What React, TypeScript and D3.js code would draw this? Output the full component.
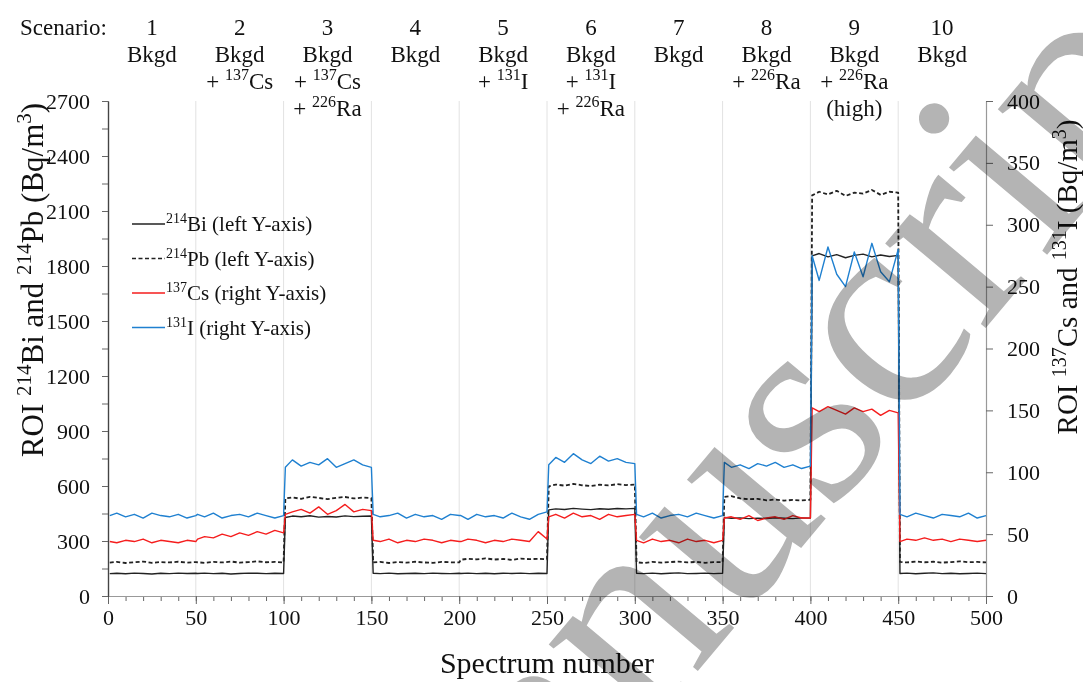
import React, { useRef, useEffect } from 'react';
import * as d3 from 'd3';

// spectrum offsets inside each 50-spectrum scenario block
const blockOffsets = [1, 5, 10, 15, 20, 25, 30, 35, 40, 45, 50];

const scenarioNums = ['1', '2', '3', '4', '5', '6', '7', '8', '9', '10'];
const scenarioLines = [
  ['Bkgd'],
  ['Bkgd', '+ ^137Cs'],
  ['Bkgd', '+ ^137Cs', '+ ^226Ra'],
  ['Bkgd'],
  ['Bkgd', '+ ^131I'],
  ['Bkgd', '+ ^131I', '+ ^226Ra'],
  ['Bkgd'],
  ['Bkgd', '+ ^226Ra'],
  ['Bkgd', '+ ^226Ra', '(high)'],
  ['Bkgd'],
];

// 214Bi, left axis (Bq/m3), 11 readings per scenario
const bi214 = [
  122, 124, 121, 125, 123, 120, 124, 122, 125, 123, 124,
  123, 125, 122, 124, 120, 123, 125, 124, 122, 124, 123,
  428, 436, 432, 438, 430, 434, 431, 437, 433, 435, 436,
  124, 122, 125, 121, 123, 124, 122, 125, 123, 122, 124,
  123, 125, 122, 124, 121, 124, 123, 125, 122, 124, 123,
  470, 475, 472, 478, 474, 471, 476, 473, 477, 475, 478,
  124, 122, 125, 121, 124, 126, 122, 123, 125, 122, 124,
  428, 424, 426, 422, 425, 423, 427, 424, 422, 426, 425,
  1855, 1868, 1850, 1862, 1845, 1858, 1865, 1850, 1860, 1852, 1858,
  123, 125, 121, 124, 126, 122, 124, 121, 123, 125, 122,
];

// 214Pb, left axis
const pb214 = [
  182, 186, 180, 184, 188, 181, 185, 183, 187, 182, 185,
  184, 181, 186, 183, 188, 182, 185, 189, 184, 186, 183,
  532, 538, 530, 541, 535, 528, 536, 540, 532, 537, 534,
  183, 186, 180, 185, 182, 187, 183, 181, 186, 184, 183,
  198, 203, 200, 205, 199, 202, 197, 204, 201, 203, 200,
  598, 608, 602, 612, 604, 600, 607, 603, 610, 605, 608,
  184, 180, 186, 182, 185, 188, 183, 186, 181, 185, 184,
  540, 545, 532, 528, 530, 522, 526, 520, 524, 521, 525,
  2185, 2205, 2190, 2210, 2182, 2200, 2195, 2215, 2188, 2205, 2200,
  186, 183, 188, 184, 187, 182, 185, 189, 184, 186, 183,
];

// 137Cs, right axis
const cs137 = [
  44, 43, 45, 44, 46, 43, 45, 44, 43, 45, 44,
  46, 48, 47, 50, 48, 51, 49, 52, 50, 53, 51,
  66, 68, 70, 67, 72, 66, 69, 74, 68, 70, 69,
  45, 44, 46, 43, 45, 44, 46, 45, 43, 45, 44,
  44, 46, 45, 43, 45, 44, 46, 45, 44, 52, 46,
  64, 66, 63, 67, 64, 65, 62, 66, 64, 65, 66,
  45, 43, 46, 44, 45, 43, 46, 44, 45, 43, 45,
  63, 64, 62, 65, 61, 63, 64, 62, 65, 63, 63,
  152, 149, 153, 150, 147, 152, 149, 151, 146, 150, 148,
  44, 46, 45, 47, 45, 46, 44, 46, 45, 44, 45,
];

// 131I, right axis
const i131 = [
  65, 67, 64, 66, 63, 67, 65, 64, 66, 63, 65,
  66, 64, 67, 63, 65, 66, 64, 67, 65, 63, 65,
  104, 110, 105, 108, 106, 111, 104, 107, 110, 106, 104,
  66, 64, 65, 67, 63, 66, 64, 65, 62, 66, 65,
  65, 62, 66, 64, 65, 63, 67, 64, 62, 66, 68,
  106, 112, 108, 115, 110, 107, 113, 109, 111, 108, 107,
  66, 64, 67, 63, 65, 66, 64, 67, 65, 63, 65,
  108, 104, 106, 103, 107, 105, 108, 104, 106, 103, 105,
  275, 255, 282, 260, 250, 278, 258, 285, 262, 254, 280,
  66, 64, 67, 65, 63, 66, 65, 64, 67, 63, 65,
];

const legendItems = [
  { label: '^214Bi (left Y-axis)', color: '#222', dash: null },
  { label: '^214Pb (left Y-axis)', color: '#222', dash: '4,2.5' },
  { label: ' ^137Cs (right Y-axis)', color: '#f51d1d', dash: null },
  { label: ' ^131I (right Y-axis)', color: '#1f80d0', dash: null },
];

const FONT = '"Liberation Serif", "Times New Roman", serif';

// write "text ^123rest" with the number raised
function richText(sel, str, size) {
  const parts = str.split(/\^(\d+)/);
  const sup = Math.round(size * 0.68);
  const shift = Math.round(size * 0.38);
  parts.forEach((p, i) => {
    if (p === '') return;
    const t = sel.append('tspan').text(p);
    if (i % 2 === 1) {
      t.attr('font-size', sup).attr('dy', -shift);
    } else if (i > 0) {
      t.attr('dy', shift);
    }
  });
}

function App() {
  const ref = useRef(null);

  useEffect(() => {
    drawChart();
  }, []);

  function drawChart() {
    const svg = d3.select(ref.current);
    svg.selectAll('*').remove();

    const left = 108, right = 986, top = 101, bottom = 596;
    const x = d3.scaleLinear().domain([0, 500]).range([left, right]);
    const yL = d3.scaleLinear().domain([0, 2700]).range([bottom, top]);
    const yR = d3.scaleLinear().domain([0, 400]).range([bottom, top]);
    const plain = d3.format('d');

    const spectra = [];
    for (let k = 0; k < 10; k++) blockOffsets.forEach(o => spectra.push(k * 50 + o));

    // gridlines
    svg.append('g')
      .selectAll('line')
      .data(d3.range(50, 500, 50))
      .join('line')
      .attr('x1', d => x(d)).attr('x2', d => x(d))
      .attr('y1', top).attr('y2', bottom)
      .attr('stroke', '#e2e2e2').attr('stroke-width', 1);

    // axes
    const styleAxis = (g, domainColor) => {
      g.select('.domain').attr('stroke', domainColor).attr('stroke-width', 1.2);
      g.selectAll('.tick line').attr('stroke', '#666');
      g.selectAll('.tick text').attr('font-family', FONT).attr('font-size', 22).attr('fill', '#111');
    };

    svg.append('g')
      .attr('transform', `translate(0,${bottom})`)
      .call(d3.axisBottom(x).tickValues(d3.range(0, 501, 10)).tickSize(5).tickSizeOuter(0).tickFormat(() => ''))
      .call(g => styleAxis(g, '#999'));
    svg.append('g')
      .attr('transform', `translate(0,${bottom})`)
      .call(d3.axisBottom(x).tickValues(d3.range(0, 501, 50)).tickSize(8).tickSizeOuter(0).tickPadding(5).tickFormat(plain))
      .call(g => styleAxis(g, '#999'));

    svg.append('g')
      .attr('transform', `translate(${left},0)`)
      .call(d3.axisLeft(yL).tickValues(d3.range(150, 2700, 300)).tickSize(6).tickSizeOuter(0).tickFormat(() => ''))
      .call(g => styleAxis(g, '#444'));
    svg.append('g')
      .attr('transform', `translate(${left},0)`)
      .call(d3.axisLeft(yL).tickValues(d3.range(0, 2701, 300)).tickSize(6).tickSizeOuter(0).tickPadding(12).tickFormat(plain))
      .call(g => styleAxis(g, '#444'));

    svg.append('g')
      .attr('transform', `translate(${right},0)`)
      .call(d3.axisRight(yR).tickValues(d3.range(0, 401, 50)).tickSize(7).tickSizeOuter(0).tickPadding(14).tickFormat(plain))
      .call(g => styleAxis(g, '#999'));

    // series
    const series = [
      { vals: bi214, y: yL, color: '#222', dash: null, w: 1.4 },
      { vals: pb214, y: yL, color: '#222', dash: '4,2.5', w: 1.8 },
      { vals: cs137, y: yR, color: '#f51d1d', dash: null, w: 1.4 },
      { vals: i131, y: yR, color: '#1f80d0', dash: null, w: 1.4 },
    ];
    series.forEach(s => {
      const pts = s.vals.map((v, i) => ({ s: spectra[i], v }));
      svg.append('path')
        .datum(pts)
        .attr('fill', 'none')
        .attr('stroke', s.color)
        .attr('stroke-width', s.w)
        .attr('stroke-dasharray', s.dash)
        .attr('stroke-linejoin', 'round')
        .attr('d', d3.line().x(d => x(d.s)).y(d => s.y(d.v)));
    });

    // scenario header
    const txt = svg.append('g').attr('font-family', FONT).attr('fill', '#111');
    txt.append('text').attr('x', 20).attr('y', 35).attr('font-size', 23).text('Scenario:');
    scenarioNums.forEach((n, k) => {
      const cx = x(k * 50 + 25);
      txt.append('text').attr('x', cx).attr('y', 35).attr('font-size', 23)
        .attr('text-anchor', 'middle').text(n);
      scenarioLines[k].forEach((line, j) => {
        const t = txt.append('text').attr('x', cx).attr('y', 62 + j * 27)
          .attr('font-size', 23).attr('text-anchor', 'middle');
        richText(t, line, 23);
      });
    });

    // legend
    legendItems.forEach((d, i) => {
      const ly = 224 + i * 34.5;
      svg.append('line')
        .attr('x1', 132).attr('x2', 165).attr('y1', ly).attr('y2', ly)
        .attr('stroke', d.color).attr('stroke-width', d.dash ? 1.6 : 1.4)
        .attr('stroke-dasharray', d.dash);
      const t = txt.append('text').attr('x', 166).attr('y', ly + 7).attr('font-size', 21);
      richText(t, d.label, 21);
    });

    // axis titles
    const tl = txt.append('text').attr('transform', 'translate(43,280) rotate(-90)')
      .attr('text-anchor', 'middle').attr('font-size', 31);
    richText(tl, 'ROI ^214Bi and ^214Pb (Bq/m^3)', 31);
    const tr = txt.append('text').attr('transform', 'translate(1077,277) rotate(-90)')
      .attr('text-anchor', 'middle').attr('font-size', 29);
    richText(tr, 'ROI ^137Cs and ^131I (Bq/m^3)', 29);
    txt.append('text').attr('x', (left + right) / 2).attr('y', 673)
      .attr('text-anchor', 'middle').attr('font-size', 30).text('Spectrum number');

    // watermark
    svg.append('text')
      .attr('transform', 'translate(400,1026) rotate(-50)')
      .attr('font-family', FONT)
      .attr('font-size', 286)
      .attr('fill', '#b4b4b4')
      .style('mix-blend-mode', 'multiply')
      .text('Manuscript');
  }

  return (
    <svg ref={ref} width={1083} height={682}
      style={{ position: 'absolute', left: 0, top: 0, display: 'block', background: '#fff' }} />
  );
}

export default App;
